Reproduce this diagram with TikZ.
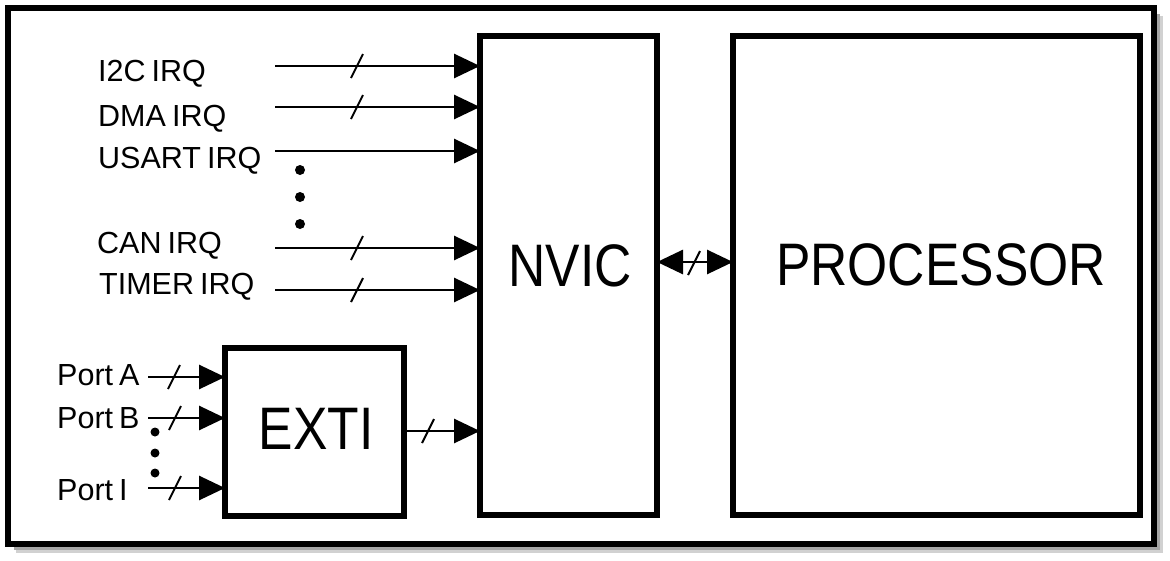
\documentclass[tikz,border=0pt]{standalone}
\usepackage{fontspec}
\setmainfont{Liberation Sans}
\newfontfamily\bigfont[FakeStretch=0.86]{Liberation Sans}
\newcommand{\lblfont}{\fontsize{30.5}{36}\selectfont\spaceskip=0.2em plus 0.1em\relax}
\usetikzlibrary{arrows.meta}
\begin{document}
\begin{tikzpicture}[x=1pt,y=-1pt,
  box/.style={draw, line width=6.5pt, inner sep=0pt, outer sep=0pt},
  big/.style={font=\bigfont\fontsize{60}{70}\selectfont, inner sep=0pt},
  lbl/.style={font=\lblfont, inner sep=0pt, anchor=base west},
  sig/.style={line width=2.8pt, -{Triangle[length=26pt,width=24pt]}},
  bisig/.style={line width=2.8pt, {Triangle[length=26pt,width=24pt]}-{Triangle[length=26pt,width=24pt]}},
  dot/.style={circle, fill, inner sep=0pt, minimum size=10pt},
  pdot/.style={circle, fill, inner sep=0pt, minimum size=9pt},
  pics/slash/.style={code={\draw[line width=2pt] (-6,12) -- (6,-12);}}]
\useasboundingbox (0,0) rectangle (1170,560);
% shadow and outer frame
\draw[black!18, line width=7pt] (1159,16) -- (1159,549) -- (16,549);
\draw[black!35, line width=5pt] (1157,14) -- (1157,547) -- (14,547);
\draw[line width=6.5pt] (8,8) rectangle (1154,544);
% boxes
\node[box, minimum width=177pt, minimum height=479pt] (nvic) at (568.5,275.5) {};
\node[box, minimum width=407pt, minimum height=479pt] (proc) at (936.5,275.5) {};
\node[box, minimum width=179pt, minimum height=168pt] (exti) at (314.5,432) {};
\node[big] (nvict) at (570,266) {NVIC};
\node[big] (proct) at (941,265) {PROCESSOR};
\node[big] (extit) at (316,429) {EXTI};
% labels
\node[lbl] (i2c) at (98,81) {I2C IRQ};
\node[lbl] (dma) at (98,126) {DMA IRQ};
\node[lbl] (usart) at (98,168) {USART IRQ};
\node[lbl] (can) at (97,253) {CAN IRQ};
\node[lbl] (timer) at (99,294) {TIMER IRQ};
\node[lbl] (pa) at (57,385) {Port A};
\node[lbl] (pb) at (57,428) {Port B};
\node[lbl] (pi) at (57,500) {Port I};
% IRQ inputs
\coordinate (i2cs) at (275,66);
\coordinate (dmas) at (275,107);
\coordinate (usarts) at (275,151);
\coordinate (cans) at (275,248);
\coordinate (timers) at (275,290);
\draw[sig] (i2cs) -- (i2cs -| nvic.west);
\draw[sig] (dmas) -- (dmas -| nvic.west);
\draw[sig] (usarts) -- (usarts -| nvic.west);
\draw[sig] (cans) -- (cans -| nvic.west);
\draw[sig] (timers) -- (timers -| nvic.west);
\pic at (357,66) {slash};
\pic at (357,107) {slash};
\pic at (357,248) {slash};
\pic at (357,290) {slash};
\node[dot] (d1) at (300,170) {};
\node[dot] (d2) at (300,197) {};
\node[dot] (d3) at (300,224) {};
% ports
\coordinate (pas) at (148,377);
\coordinate (pbs) at (148,418);
\coordinate (pis) at (148,488);
\draw[sig] (pas) -- (pas -| exti.west);
\draw[sig] (pbs) -- (pbs -| exti.west);
\draw[sig] (pis) -- (pis -| exti.west);
\pic at (174,377) {slash};
\pic at (175,418) {slash};
\pic at (175,488) {slash};
\node[pdot] (p1) at (155,432) {};
\node[pdot] (p2) at (155,453) {};
\node[pdot] (p3) at (155,473) {};
% EXTI to NVIC
\coordinate (eo) at (404,431);
\draw[sig] (eo) -- (eo -| nvic.west);
\pic at (428,431) {slash};
% NVIC <-> processor
\coordinate (bi) at (657,262);
\draw[bisig] (bi) -- (bi -| proc.west);
\pic at (694,263) {slash};
\end{tikzpicture}
\end{document}
